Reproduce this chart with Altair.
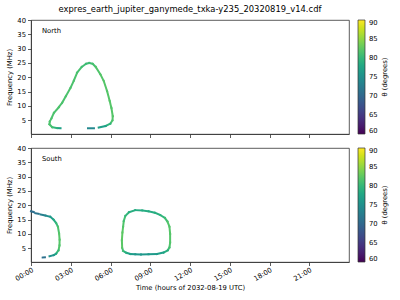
import altair as alt
import pandas as pd

TITLE = "expres_earth_jupiter_ganymede_txka-y235_20320819_v14.cdf"
FONT = "DejaVu Sans"

hour_ticks = [0, 3, 6, 9, 12, 15, 18, 21]
freq_ticks = [5, 10, 15, 20, 25, 30, 35, 40]
theta_ticks = [60, 65, 70, 75, 80, 85, 90]

# ---- North hemisphere emission (hours, MHz, theta degrees) ----
north_main_hours = [2.23, 1.95, 1.6, 1.39, 1.42, 1.55, 1.73, 2.1, 2.35, 2.63, 2.98, 3.23,
                    3.48, 3.83, 4.15, 4.4, 4.65, 4.89, 5.24, 5.49, 5.74, 5.94, 6.07, 6.17,
                    6.15, 5.99, 5.64, 5.11]
north_main_freq = [2.2, 2.25, 2.55, 3.6, 4.6, 5.7, 7.6, 9.55, 11.1, 13.4, 16.3, 18.8,
                   21.6, 23.6, 24.7, 25.0, 24.7, 23.6, 21.0, 18.7, 15.2, 11.7, 9.3, 6.4,
                   5.0, 3.8, 3.0, 2.45]
north_main_theta = [76, 78.5, 81, 81.5, 81.5, 81.5, 81.5, 81.5, 81.5, 81.5, 81.5, 81.5,
                    81.5, 81, 80.5, 80.5, 81, 81.5, 82, 82, 82, 82, 82, 82,
                    82, 81, 78, 76]
north_mid_hours = [4.3, 4.75]
north_mid_freq = [2.2, 2.2]
north_mid_theta = [74, 74]

# ---- South hemisphere emission ----
south_a_hours = [0.0, 0.22]
south_a_freq = [17.9, 17.6]
south_a_theta = [70.5, 71]
south_b_hours = [0.33, 0.58]
south_b_freq = [17.2, 17.0]
south_b_theta = [71, 72]
south_c_hours = [0.72, 1.1, 1.45, 1.7, 1.9, 2.03, 2.12, 2.16, 2.15, 2.08, 1.9, 1.72, 1.4]
south_c_freq = [16.8, 16.4, 16.0, 15.0, 13.8, 12.5, 10.2, 8.0, 6.0, 4.3, 3.15, 2.6, 2.2]
south_c_theta = [72, 73.5, 75.5, 77.5, 79.5, 81, 82, 82, 82, 81.5, 79, 76.5, 74]
south_d_hours = [0.88, 1.05]
south_d_freq = [1.75, 1.8]
south_d_theta = [71, 71]

south_loop_hours = [6.86, 6.9, 6.95, 7.0, 7.12, 7.4, 7.87, 8.4, 8.87, 9.35, 9.75, 10.1,
                    10.3, 10.45, 10.5, 10.5, 10.45, 10.32, 10.0, 9.5, 8.87, 8.3, 7.87,
                    7.5, 7.2, 6.95, 6.88, 6.86]
south_loop_freq = [7.8, 10.5, 12.5, 14.5, 16.3, 17.6, 18.3, 18.2, 17.9, 17.4, 16.6, 15.6,
                   14.3, 12.5, 10.0, 7.0, 5.3, 4.3, 3.5, 3.0, 2.9, 2.85, 2.9,
                   3.0, 3.4, 4.1, 5.2, 7.8]
south_loop_theta = [82.5, 82.5, 82, 81.5, 80.5, 79, 78.5, 78.5, 78.5, 78.5, 79, 80,
                    81.5, 82, 82, 82, 81.5, 80, 77.5, 76.5, 76, 76, 76,
                    76.5, 78, 80, 82, 82.5]


def segments(hours, freq, theta):
    rows = []
    for i in range(len(hours) - 1):
        rows.append(dict(h=hours[i], f=freq[i], h2=hours[i + 1], f2=freq[i + 1],
                         theta=(theta[i] + theta[i + 1]) / 2))
    return rows


north_df = pd.DataFrame(
    segments(north_main_hours, north_main_freq, north_main_theta)
    + segments(north_mid_hours, north_mid_freq, north_mid_theta)
)
south_df = pd.DataFrame(
    segments(south_a_hours, south_a_freq, south_a_theta)
    + segments(south_b_hours, south_b_freq, south_b_theta)
    + segments(south_c_hours, south_c_freq, south_c_theta)
    + segments(south_d_hours, south_d_freq, south_d_theta)
    + segments(south_loop_hours, south_loop_freq, south_loop_theta)
)

W, H = 318, 114


def panel(df, label, show_labels):
    x_axis = alt.Axis(values=hour_ticks, grid=False, labels=show_labels,
                      title="Time (hours of 2032-08-19 UTC)" if show_labels else None,
                      labelExpr="(datum.value < 10 ? '0' : '') + datum.value + ':00'",
                      labelAngle=-30, labelAlign="right", labelBaseline="top",
                      labelPadding=1, titlePadding=2)
    color = alt.Color(
        "theta:Q",
        scale=alt.Scale(scheme="viridis", domain=[60, 90]),
        legend=alt.Legend(title=None, values=theta_ticks, gradientLength=H,
                          gradientThickness=7, orient="none", legendX=W + 9, legendY=0,
                          padding=0, labelOffset=4,
                          gradientStrokeColor="#333", gradientStrokeWidth=0.7),
    )
    segs = alt.Chart(df).mark_rule(strokeWidth=2, strokeCap="square").encode(
        x=alt.X("h:Q", scale=alt.Scale(domain=[0, 24], nice=False), axis=x_axis),
        y=alt.Y("f:Q", scale=alt.Scale(domain=[0.2, 40], nice=False),
                axis=alt.Axis(values=freq_ticks, grid=False, title="Frequency (MHz)",
                              titlePadding=4)),
        x2="h2:Q",
        y2="f2:Q",
        color=color,
    )
    txt = alt.Chart(pd.DataFrame({"t": [label]})).mark_text(
        align="left", baseline="middle", fontSize=6.8, font=FONT, color="black"
    ).encode(x=alt.value(11), y=alt.value(11), text="t:N")
    cbar_title = alt.Chart(pd.DataFrame({"t": ["θ (degrees)"]})).mark_text(
        align="center", baseline="middle", fontSize=6.8, font=FONT, color="black",
        angle=270
    ).encode(x=alt.value(W + 36), y=alt.value(H / 2), text="t:N")
    return alt.layer(segs, txt, cbar_title).properties(width=W, height=H)


top = panel(north_df, "North", False).properties(
    title=alt.TitleParams(TITLE, fontSize=8.4, font=FONT, fontWeight="normal",
                          anchor="middle", offset=4, color="black")
)
bottom = panel(south_df, "South", True)

chart = (
    alt.vconcat(top, bottom, spacing=14, bounds="flush")
    .resolve_scale(color="independent")
    .resolve_legend(color="independent")
    .properties(padding={"left": 6, "top": 4, "right": 2, "bottom": 2})
    .configure_view(stroke="#333", strokeWidth=0.8)
    .configure_axis(labelFont=FONT, titleFont=FONT, labelFontSize=6.8, titleFontSize=6.8,
                    titleFontWeight="normal", labelColor="black", titleColor="black",
                    domainColor="#333", tickColor="#333", tickSize=3.5, domainWidth=0.8,
                    tickWidth=0.8)
    .configure_legend(labelFont=FONT, labelFontSize=6.8, labelColor="black")
)

chart.save("out.html", embed_options={"renderer": "svg", "actions": False})
